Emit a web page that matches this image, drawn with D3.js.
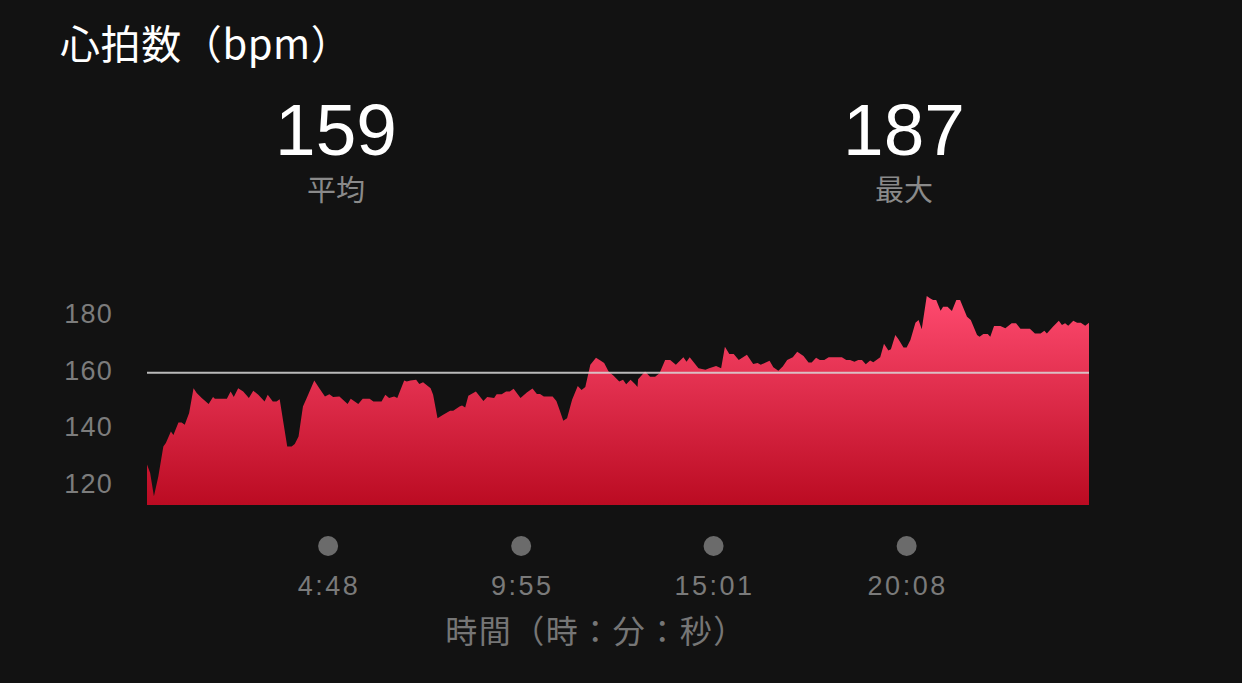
<!DOCTYPE html>
<html>
<head>
<meta charset="utf-8">
<script src="https://cdn.jsdelivr.net/npm/d3@7"></script>
<style>
  html, body { margin: 0; padding: 0; background: #121212; }
  svg { display: block; }
</style>
</head>
<body>
<div id="chart"></div>
<script>
// Heart rate samples (seconds from start, bpm)
const timeSec = [
  0, 5, 11, 18, 26, 30, 38, 42, 50, 55, 60, 67, 74, 79, 87, 98, 105, 108, 127, 133,
  138, 145, 153, 162, 169, 177, 187, 192, 200, 206, 211, 217, 223, 230, 235, 241, 248, 254, 266, 274,
  283, 290, 296, 306, 319, 324, 336, 343, 354, 360, 373, 379, 385, 393, 398, 409, 413, 419, 428, 433,
  439, 451, 455, 462, 471, 482, 487, 497,
  501, 506, 511, 523, 535, 541, 552, 556, 564, 571, 577, 583, 594, 604, 613, 620, 625, 631, 645, 651,
  656, 662, 668, 676, 685, 691, 697, 705, 714, 721, 727, 734, 742, 751, 757, 762, 769, 776, 780, 781,
  792, 800, 808, 815, 824, 832, 841, 853, 858, 863, 877, 888, 894, 905, 913, 919, 926, 933, 941, 954,
  964, 971, 976, 990,
  996, 1004, 1011, 1018, 1027, 1034, 1044, 1052, 1057, 1064, 1070, 1077, 1084, 1105, 1112, 1118, 1125, 1131, 1137, 1143,
  1150, 1155, 1166, 1172, 1179, 1183, 1190, 1195, 1203, 1208, 1214, 1222, 1227, 1232, 1240, 1245, 1250, 1255, 1262, 1266,
  1273, 1280, 1287, 1293, 1304, 1310, 1320, 1324, 1330, 1337, 1341, 1347, 1357, 1365, 1375, 1382, 1389, 1404, 1412, 1421,
  1427, 1431, 1441, 1450, 1455, 1460, 1465, 1473, 1479, 1485, 1492, 1498
];
const heartRate = [
  126.5, 123.5, 115.3, 122.3, 132.9, 134.1, 138.2, 137, 141.4, 141.4, 140.6, 144.7, 153.5, 151.8, 150, 147.9, 150.4, 149.8, 149.8, 152.3,
  150.4, 153.5, 152.3, 150, 152.6, 151.2, 148.8, 151.2, 148.8, 148.8, 149.6, 141.2, 132.9, 132.9, 133.8, 136.4, 147, 150, 156.2, 153.5,
  150.6, 151.4, 150.4, 150.6, 147.9, 149.8, 147.9, 149.8, 149.8, 148.8, 148.8, 151.2, 150, 150.6, 150, 156.2, 155.9, 156.2, 156.5, 155,
  155.6, 153.5, 151.2, 142.9, 144.1, 145.5, 145.5, 147,
  147.4, 146.7, 150.8, 152.3, 149, 150.4, 150, 151.4, 151.4, 152.3, 152.3, 153.3, 150, 152, 153.4, 151.5, 151.5, 150.6, 150.6, 149,
  145.9, 142, 142.9, 149.4, 154.3, 152.9, 153.9, 161.8, 164.3, 163.3, 162.4, 159.4, 157.9, 155.9, 156.5, 154.9, 156.5, 155, 153.9, 156.7,
  159.4, 157.6, 157.6, 158.8, 163.5, 163.5, 161.8, 164.5, 162.9, 164.5, 160.6, 160, 160.6, 161.4, 160.6, 168.2, 165.6, 165.6, 163.5, 165.3,
  162.1, 162.4, 161.8, 163.2,
  160.9, 159.7, 161.2, 163.5, 164.5, 166.4, 164.9, 162.6, 162.6, 164.3, 163.5, 163.5, 164.5, 164.5, 163.5, 163.5, 162.9, 163.5, 163.5, 162,
  163.3, 162.7, 164.5, 169.2, 166.8, 167.3, 172.3, 170.8, 167.9, 167.9, 170.6, 176.7, 177.6, 174.4, 186.1, 185.3, 184.7, 184.7, 180.9, 182.3,
  182.3, 180.8, 184.7, 184.7, 178.8, 177.6, 172.3, 171.7, 172.7, 172.7, 171.7, 175.5, 175.5, 174.7, 176.5, 176.5, 174.5, 174.5, 172.9, 172.9,
  173.8, 172.9, 175.3, 177.4, 175.9, 176.5, 175.6, 177.4, 176.7, 176.7, 175.6, 176.7
];

const yTicks = [120, 140, 160, 180];
const timeTicks = [288, 595, 901, 1208];
const timeLabels = ['4:48', '9:55', '15:01', '20:08'];

const avgBpm = 159;
const maxBpm = 187;
const totalSec = 1498;
const yFloor = 112.2;

const width = 1242;
const height = 683;
const numFont = '"Liberation Sans", Arial, sans-serif';
const cjkFont = '"Noto Sans CJK JP", "Noto Sans CJK SC", sans-serif';

const svg = d3.select('#chart')
  .append('svg')
  .attr('width', width)
  .attr('height', height)
  .style('background', '#121212');

// Scales
const x = d3.scaleLinear().domain([0, totalSec]).range([147, 1089]);
const y = d3.scaleLinear().domain([yFloor, 180]).range([505, 313.3]);

// Gradient fill (pink at top, deep red at bottom)
const defs = svg.append('defs');
const grad = defs.append('linearGradient')
  .attr('id', 'hrFill')
  .attr('gradientUnits', 'userSpaceOnUse')
  .attr('x1', 0).attr('x2', 0)
  .attr('y1', y(maxBpm)).attr('y2', y(yFloor));
grad.append('stop').attr('offset', '0%').attr('stop-color', '#ff4b70');
grad.append('stop').attr('offset', '100%').attr('stop-color', '#bb0b22');

const data = timeSec.map((t, i) => ({ t: t, v: heartRate[i] }));

const area = d3.area()
  .x(d => x(d.t))
  .y0(y(yFloor))
  .y1(d => y(d.v));

svg.append('path')
  .datum(data)
  .attr('d', area)
  .attr('fill', 'url(#hrFill)');

// Average line
svg.append('line')
  .attr('x1', x(0)).attr('x2', x(totalSec))
  .attr('y1', y(avgBpm)).attr('y2', y(avgBpm))
  .attr('stroke', '#d8d8d8')
  .attr('stroke-opacity', 0.85)
  .attr('stroke-width', 2);

// Y axis labels
svg.append('g')
  .selectAll('text')
  .data(yTicks)
  .join('text')
  .attr('x', 113)
  .attr('y', d => y(d))
  .attr('dy', '0.36em')
  .attr('text-anchor', 'end')
  .attr('font-family', numFont)
  .attr('font-size', 27)
  .attr('letter-spacing', 1.2)
  .attr('fill', '#7c7c7c')
  .text(d => d);

// Time markers and labels
const tg = svg.append('g');
tg.selectAll('circle')
  .data(timeTicks)
  .join('circle')
  .attr('cx', d => x(d))
  .attr('cy', 546)
  .attr('r', 10)
  .attr('fill', '#6b6b6b');

tg.selectAll('text')
  .data(timeTicks)
  .join('text')
  .attr('x', d => x(d) + 1)
  .attr('y', 595)
  .attr('text-anchor', 'middle')
  .attr('font-family', numFont)
  .attr('font-size', 27)
  .attr('letter-spacing', 2.5)
  .attr('fill', '#7a7a7a')
  .text((d, i) => timeLabels[i]);

svg.append('text')
  .attr('x', 596)
  .attr('y', 643)
  .attr('text-anchor', 'middle')
  .attr('font-family', cjkFont)
  .attr('font-size', 32)
  .attr('letter-spacing', 1.5)
  .attr('fill', '#767676')
  .text('時間（時：分：秒）');

// Title
svg.append('text')
  .attr('x', 60)
  .attr('y', 59)
  .attr('font-family', cjkFont)
  .attr('font-size', 40)
  .attr('letter-spacing', 0.6)
  .attr('fill', '#ffffff')
  .text('心拍数（bpm）');

// Summary numbers
const stats = [
  { value: avgBpm, label: '平均', cx: 336 },
  { value: maxBpm, label: '最大', cx: 904 }
];

stats.forEach(s => {
  svg.append('text')
    .attr('x', s.cx)
    .attr('y', 155)
    .attr('text-anchor', 'middle')
    .attr('font-family', numFont)
    .attr('font-size', 73)
    .attr('fill', '#ffffff')
    .text(s.value);
  svg.append('text')
    .attr('x', s.cx)
    .attr('y', 201)
    .attr('text-anchor', 'middle')
    .attr('font-family', cjkFont)
    .attr('font-size', 29)
    .attr('fill', '#8a8a8a')
    .text(s.label);
});
</script>
</body>
</html>
